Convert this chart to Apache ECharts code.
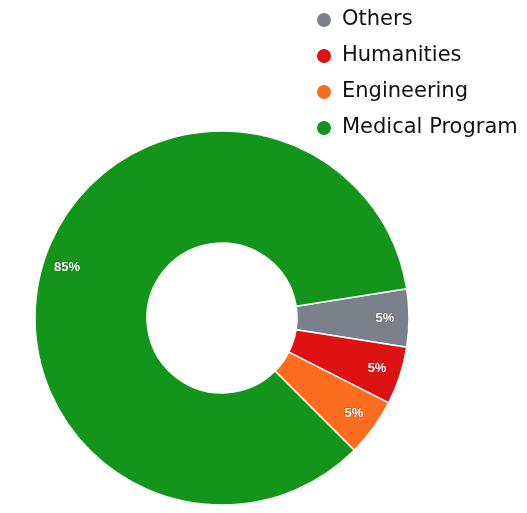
<!DOCTYPE html>
<html>
<head>
<meta charset="utf-8">
<script src="https://cdn.jsdelivr.net/npm/echarts@6/dist/echarts.min.js"></script>
<style>
  html, body { margin: 0; padding: 0; background: #fff; }
  #chart { width: 527px; height: 513px; }
</style>
</head>
<body>
<div id="chart"></div>
<script>
// 类别与数值
var categories = ['Others', 'Humanities', 'Engineering', 'Medical Program'];
var values = [5, 5, 5, 85];
var colors = ['#7a808c', '#de1212', '#fd6c1f', '#12951a'];

var myChart = echarts.init(document.getElementById('chart'));

var pieData = categories.map(function (name, i) {
    return { name: name, value: values[i], itemStyle: { color: colors[i] } };
});

var option = {
    animation: false,
    legend: {
        orient: 'vertical',
        left: 310,
        top: 4,
        icon: 'circle',
        itemWidth: 16,
        itemHeight: 16,
        itemGap: 14,
        textStyle: {
            color: '#111',
            fontSize: 21,
            lineHeight: 22,
            fontFamily: 'DejaVu Sans',
            padding: [0, 0, 0, 5]
        },
        data: categories
    },
    series: [{
        name: 'Program',
        type: 'pie',
        center: [222, 318],
        radius: [75, 187],
        startAngle: 9,
        clockwise: true,
        label: { show: false },
        labelLine: { show: false },
        itemStyle: { borderColor: '#fff', borderWidth: 1.5 },
        emphasis: { disabled: true },
        data: pieData
    }, {
        // 透明的外圈，只用来放标签
        name: 'labels',
        type: 'pie',
        silent: true,
        center: [222, 318],
        radius: [133, 187],
        startAngle: 9,
        clockwise: true,
        legendHoverLink: false,
        itemStyle: { color: 'rgba(0,0,0,0)' },
        label: {
            show: true,
            position: 'inside',
            formatter: '{c}%',
            color: '#fff',
            fontSize: 13,
            fontWeight: 'bold',
            fontFamily: 'Liberation Sans',
            textBorderColor: 'rgba(0,0,0,0.3)',
            textBorderWidth: 1
        },
        labelLine: { show: false },
        data: categories.map(function (name, i) {
            return { name: name, value: values[i] };
        })
    }]
};
myChart.setOption(option);

window.addEventListener('resize', function () {
    myChart.resize();
});
</script>
</body>
</html>
